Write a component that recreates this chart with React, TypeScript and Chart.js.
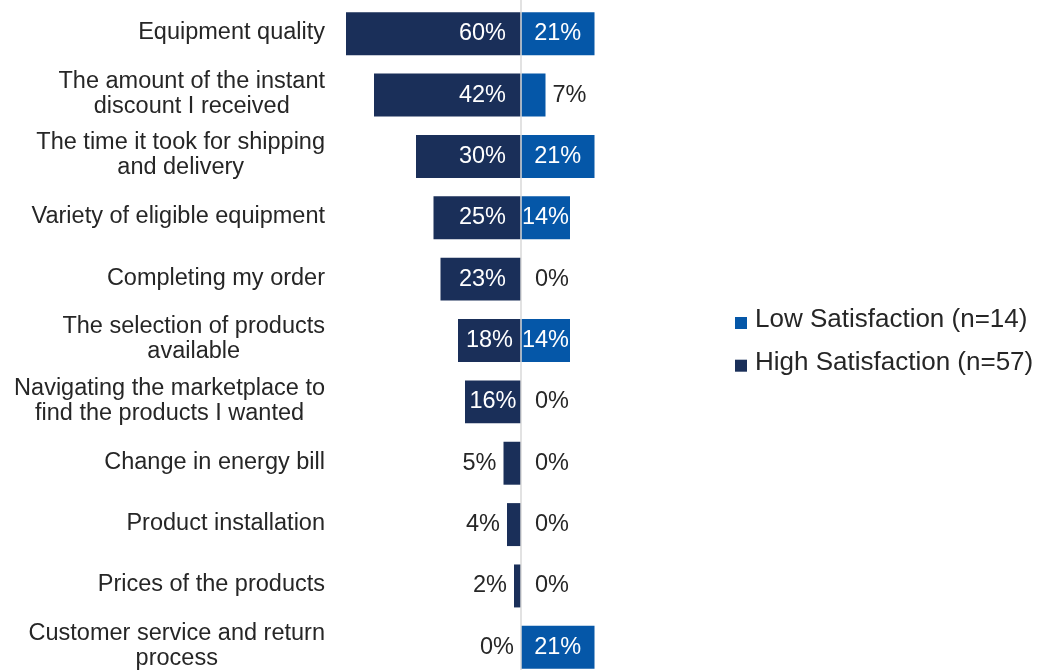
import React, { useEffect, useRef } from "react";
import { Chart, registerables } from "chart.js";

Chart.register(...registerables);

// Category labels (multi-line where the label wraps)
const categories: string[][] = [
  ["Equipment quality"],
  ["The amount of the instant", "discount I received"],
  ["The time it took for shipping", "and delivery"],
  ["Variety of eligible equipment"],
  ["Completing my order"],
  ["The selection of products", "available"],
  ["Navigating the marketplace to", "find the products I wanted"],
  ["Change in energy bill"],
  ["Product installation"],
  ["Prices of the products"],
  ["Customer service and return", "process"],
];

// Percent of respondents in each group
const highSatisfaction = [60, 42, 30, 25, 23, 18, 16, 5, 4, 2, 0];
const lowSatisfaction = [21, 7, 21, 14, 0, 14, 0, 0, 0, 0, 21];

const highLabel = "High Satisfaction (n=57)";
const lowLabel = "Low Satisfaction (n=14)";

// Diverging value axis: high satisfaction to the left, low to the right
const axisMin = -50;
const axisMax = 50;

const HIGH_COLOR = "#1a2f59";
const LOW_COLOR = "#0557a8";
const TEXT_COLOR = "#262626";
const FONT = "'Liberation Sans', Arial, sans-serif";
const CAT_FONT_SIZE = 23.5;
const VALUE_FONT_SIZE = 23.5;
const LEGEND_FONT_SIZE = 26;

const pct = (v: number) => `${v}%`;

const divergingPlugin = {
  id: "divergingDecor",
  afterDatasetsDraw(chart: any) {
    const { ctx, chartArea } = chart;
    const xScale = chart.scales.x;
    const yScale = chart.scales.y;
    const x0 = xScale.getPixelForValue(0);

    ctx.save();

    // zero line
    ctx.strokeStyle = "#d9d9d9";
    ctx.lineWidth = 1.5;
    ctx.beginPath();
    ctx.moveTo(x0, 0);
    ctx.lineTo(x0, chart.height);
    ctx.stroke();

    // value labels
    ctx.font = `${VALUE_FONT_SIZE}px ${FONT}`;
    ctx.textBaseline = "middle";
    const series = [
      { values: highSatisfaction, side: -1, anchor: "base" },
      { values: lowSatisfaction, side: 1, anchor: "center" },
    ];
    series.forEach(({ values, side, anchor }) => {
      values.forEach((v, i) => {
        const y = yScale.getPixelForValue(i);
        let x1 = xScale.getPixelForValue(side * v);
        x1 = Math.max(chartArea.left, Math.min(chartArea.right, x1));
        const barLen = Math.abs(x1 - x0);
        const text = pct(v);
        const tw = ctx.measureText(text).width;
        if (tw <= barLen + 4) {
          ctx.fillStyle = "#ffffff";
          ctx.textAlign = "center";
          let cx = (x0 + x1) / 2;
          if (anchor === "base") {
            const inset = 15;
            const candidate = x0 + side * (inset + tw / 2);
            const farEdge = candidate + side * (tw / 2);
            if (Math.abs(farEdge - x0) <= barLen - 2) cx = candidate;
          }
          ctx.fillText(text, cx, y);
        } else {
          ctx.fillStyle = TEXT_COLOR;
          const gap = side > 0 && v === 0 ? 14 : 7;
          ctx.textAlign = side < 0 ? "right" : "left";
          ctx.fillText(text, x1 + side * gap, y);
        }
      });
    });

    // category labels: block right-aligned, lines centered
    ctx.font = `${CAT_FONT_SIZE}px ${FONT}`;
    ctx.fillStyle = TEXT_COLOR;
    ctx.textAlign = "center";
    ctx.textBaseline = "middle";
    const lineGap = 25;
    categories.forEach((lines, i) => {
      const yc = yScale.getPixelForValue(i) - 1;
      const w = Math.max(...lines.map((l) => ctx.measureText(l).width));
      const cx = chartArea.left - 21 - w / 2;
      lines.forEach((l, j) => {
        const y = yc + (j - (lines.length - 1) / 2) * lineGap;
        ctx.fillText(l, cx, y);
      });
    });

    // legend
    const legendItems = [
      { label: lowLabel, color: LOW_COLOR },
      { label: highLabel, color: HIGH_COLOR },
    ];
    ctx.font = `${LEGEND_FONT_SIZE}px ${FONT}`;
    ctx.textAlign = "left";
    ctx.textBaseline = "alphabetic";
    const midY = (chartArea.top + chartArea.bottom) / 2;
    const lx = chartArea.right + 39;
    legendItems.forEach((item, k) => {
      const baseline = midY - 13.5 + k * 42.7;
      ctx.fillStyle = item.color;
      ctx.fillRect(lx, baseline - 10, 12, 12);
      ctx.fillStyle = TEXT_COLOR;
      ctx.fillText(item.label, lx + 20, baseline);
    });

    ctx.restore();
  },
};

function DivergingChart() {
  const canvasRef = useRef<HTMLCanvasElement | null>(null);

  useEffect(() => {
    if (!canvasRef.current) return;
    const chart = new Chart(canvasRef.current, {
      type: "bar",
      data: {
        labels: categories,
        datasets: [
          {
            label: highLabel,
            data: highSatisfaction.map((v) => -v),
            backgroundColor: HIGH_COLOR,
            borderWidth: 0,
            grouped: false,
            clip: 0,
            barPercentage: 0.7,
            categoryPercentage: 1,
          } as any,
          {
            label: lowLabel,
            data: lowSatisfaction,
            backgroundColor: LOW_COLOR,
            borderWidth: 0,
            grouped: false,
            clip: 0,
            barPercentage: 0.7,
            categoryPercentage: 1,
          } as any,
        ],
      },
      options: {
        indexAxis: "y",
        responsive: false,
        animation: false,
        events: [],
        layout: { padding: { left: 346, right: 341, top: 3, bottom: 4 } },
        scales: {
          x: { type: "linear", min: axisMin, max: axisMax, display: false },
          y: { type: "category", display: false },
        },
        plugins: {
          legend: { display: false },
          tooltip: { enabled: false },
        },
      },
      plugins: [divergingPlugin],
    });
    return () => chart.destroy();
  }, []);

  return (
    <div
      style={{
        position: "fixed",
        left: 0,
        top: 0,
        width: 1037,
        height: 670,
        overflow: "hidden",
        background: "#ffffff",
      }}
    >
      <canvas ref={canvasRef} width={1037} height={682} />
    </div>
  );
}

export default function App() {
  return <DivergingChart />;
}
